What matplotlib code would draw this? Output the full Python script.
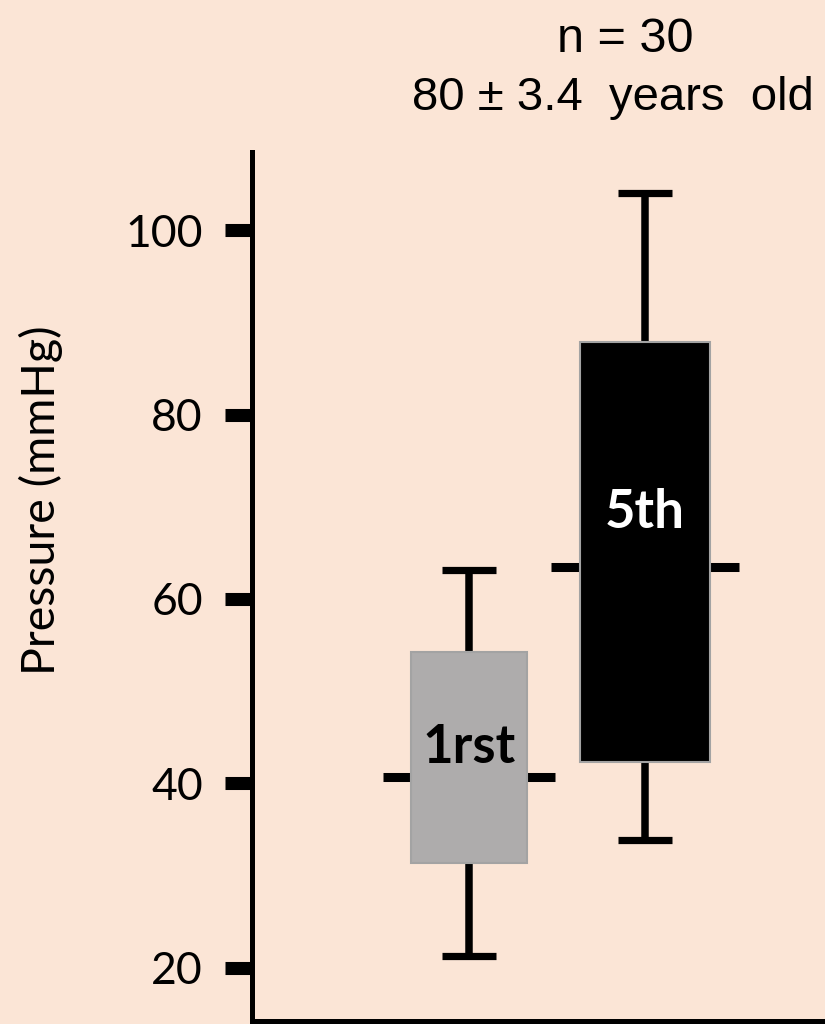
import matplotlib.pyplot as plt

# Pressure summary per measurement (mmHg)
groups = ['1rst', '5th']
q1 = [31.3, 42.3]
q3 = [54.2, 87.9]
medians = [40.7, 63.5]
whisker_lo = [21.3, 33.8]
whisker_hi = [63.1, 104.1]
y_ticks = [20, 40, 60, 80, 100]

positions = [1, 2]
box_widths = [0.659, 0.744]
box_colors = ['#AEACAC', '#000000']
label_colors = ['#000000', '#FFFFFF']
label_y = [42.2, 67.7]

BG = '#FBE5D6'
CAP_W = 0.307
MED_EXT = 0.16

fig = plt.figure(figsize=(8.25, 10.24), dpi=100, facecolor=BG)
ax = fig.add_axes([252 / 825, 3 / 1024, 1 - 252 / 825, 869 / 1024])
ax.set_facecolor(BG)

for i, x in enumerate(positions):
    half = box_widths[i] / 2
    # whiskers and caps
    ax.vlines(x, whisker_lo[i], q1[i], color='black', lw=5.4, zorder=1)
    ax.vlines(x, q3[i], whisker_hi[i], color='black', lw=5.4, zorder=1)
    ax.hlines([whisker_lo[i], whisker_hi[i]], x - CAP_W / 2, x + CAP_W / 2,
              color='black', lw=5.2, zorder=1)
    # median ticks stick out past the box
    ax.hlines(medians[i], x - half - MED_EXT, x + half + MED_EXT,
              color='black', lw=6.5, zorder=1)
    ax.bar(x, q3[i] - q1[i], bottom=q1[i], width=box_widths[i],
           color=box_colors[i], edgecolor='#A3A3A3', linewidth=1.5, zorder=2)
    ax.text(x, label_y[i], groups[i], ha='center', va='baseline',
            color=label_colors[i], fontsize=38, fontweight='bold',
            family='Lato', zorder=3)

ax.set_xlim(-0.233, 3.023)
ax.set_ylim(14.2, 108.5)

for side in ['top', 'right']:
    ax.spines[side].set_visible(False)
for side in ['left', 'bottom']:
    ax.spines[side].set_linewidth(3.6)
    ax.spines[side].set_capstyle('projecting')

ax.set_xticks([])
ax.set_yticks(y_ticks)
ax.tick_params(axis='y', length=19.4, width=9.4, pad=16, labelsize=32)
for lbl in ax.get_yticklabels():
    lbl.set_family('Lato')

fig.text(41 / 825, 1 - 500 / 1024, 'Pressure (mmHg)', rotation=90,
         ha='center', va='center', fontsize=33.5, family='Lato')
fig.text(625 / 825, 1 - 52 / 1024, 'n = 30', ha='center', va='baseline',
         fontsize=35, family='Liberation Sans')
fig.text(613 / 825, 1 - 110 / 1024, '80 ± 3.4  years  old', ha='center',
         va='baseline', fontsize=34, family='Liberation Sans')

fig.savefig('out.png', dpi=100, facecolor=BG)
